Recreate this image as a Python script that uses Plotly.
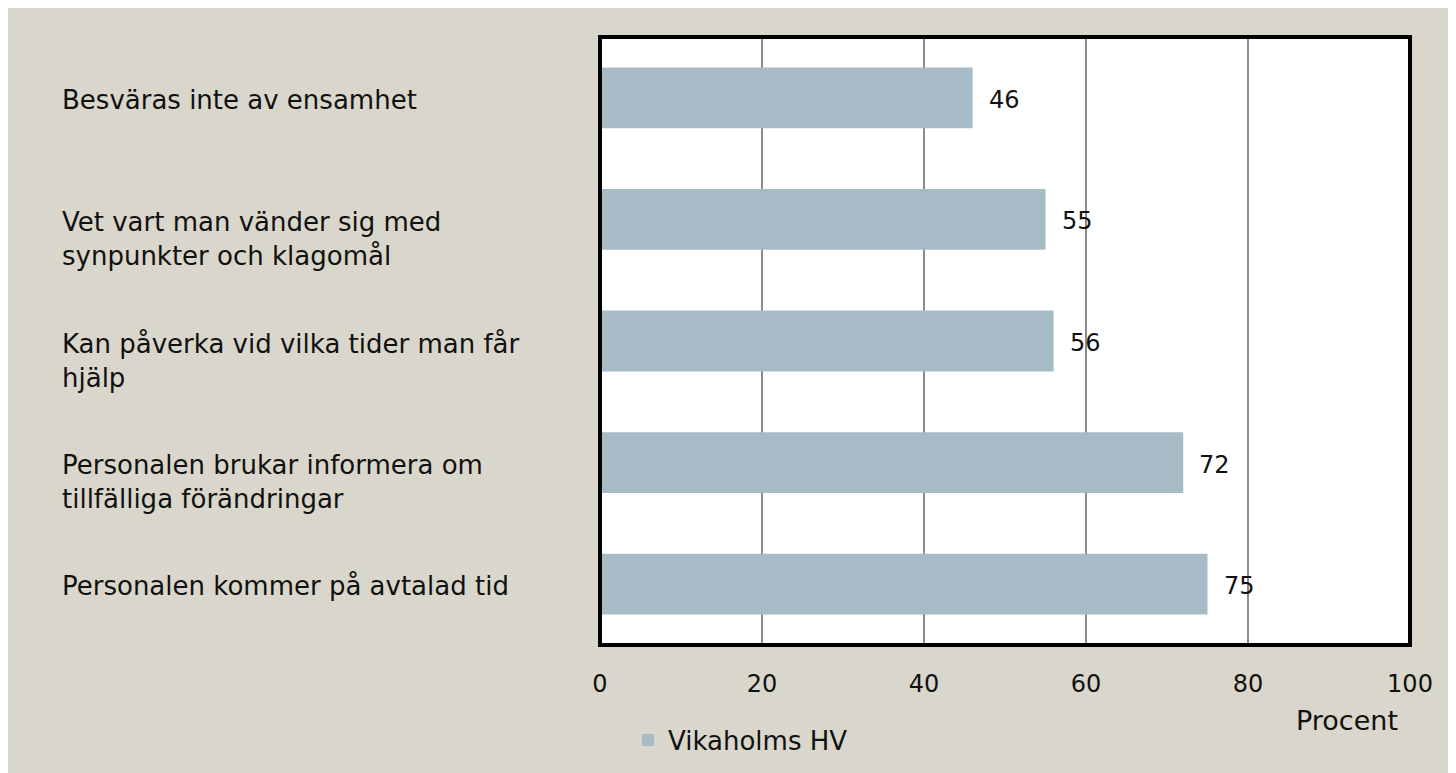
import plotly.graph_objects as go

categories = [
    "Besväras inte av ensamhet",
    "Vet vart man vänder sig med<br>synpunkter och klagomål",
    "Kan påverka vid vilka tider man får<br>hjälp",
    "Personalen brukar informera om<br>tillfälliga förändringar",
    "Personalen kommer på avtalad tid",
]
values = [46, 55, 56, 72, 75]
series_name = "Vikaholms HV"
x_ticks = [0, 20, 40, 60, 80, 100]

W, H = 1456, 773
OFF = 8  # page body margin offset
L, R, T = 600 - OFF, W - (1410 - OFF), 37 - OFF
B = H - (645 - OFF)
PW, PH = W - L - R, H - T - B
FONT = "DejaVu Sans"
BAR = "#A7BBC6"
BG = "#D9D7CB"
INK = "#111111"

def px_x(px):
    return (px - OFF - L) / PW

def px_y(py):
    return (H - B - (py - OFF)) / PH

fig = go.Figure()
fig.add_trace(go.Bar(
    x=values, y=categories, orientation="h", name=series_name,
    marker=dict(color=BAR, line=dict(width=0)),
    showlegend=True,
))

annotations = []
for c, v in zip(categories, values):
    lines = c.count("<br>") + 1
    annotations.append(dict(
        x=px_x(60), xref="paper", y=c, yref="y", text=c, showarrow=False,
        xanchor="left", yanchor="middle", align="left",
        yshift=-(lines - 1) * 17.5 - 2,
        font=dict(family=FONT, size=26, color=INK),
    ))
    annotations.append(dict(
        x=v, xref="x", y=c, yref="y", text=str(v), showarrow=False,
        xanchor="left", yanchor="middle", xshift=14, yshift=-2,
        font=dict(family=FONT, size=24, color=INK),
    ))
annotations.append(dict(
    x=px_x(1347), xref="paper", y=px_y(720), yref="paper", text="Procent",
    showarrow=False, xanchor="center", yanchor="middle",
    font=dict(family=FONT, size=27, color=INK),
))

shapes = [
    dict(type="rect", xref="paper", yref="paper", x0=0, x1=1, y0=0, y1=1,
         line=dict(color="black", width=4), fillcolor="rgba(0,0,0,0)", layer="above"),
]

fig.update_layout(
    width=W, height=H,
    margin=dict(l=L, r=R, t=T, b=B, pad=0),
    paper_bgcolor=BG, plot_bgcolor="white",
    bargap=0.5,
    font=dict(family=FONT, size=24, color=INK),
    xaxis=dict(range=[0, 100], tickvals=x_ticks, showgrid=True,
               gridcolor="#8C8C8C", gridwidth=1.5, zeroline=False,
               showline=False, ticks="", ticklabelstandoff=22,
               tickfont=dict(family=FONT, size=24, color=INK)),
    yaxis=dict(autorange="reversed", showticklabels=False, showgrid=False,
               zeroline=False, showline=False, ticks=""),
    legend=dict(orientation="h", x=px_x(628), y=px_y(740), xanchor="left",
                yanchor="middle", bgcolor="rgba(0,0,0,0)",
                font=dict(family=FONT, size=26, color=INK)),
    annotations=annotations,
    shapes=shapes,
)

fig.write_html("out.html")
